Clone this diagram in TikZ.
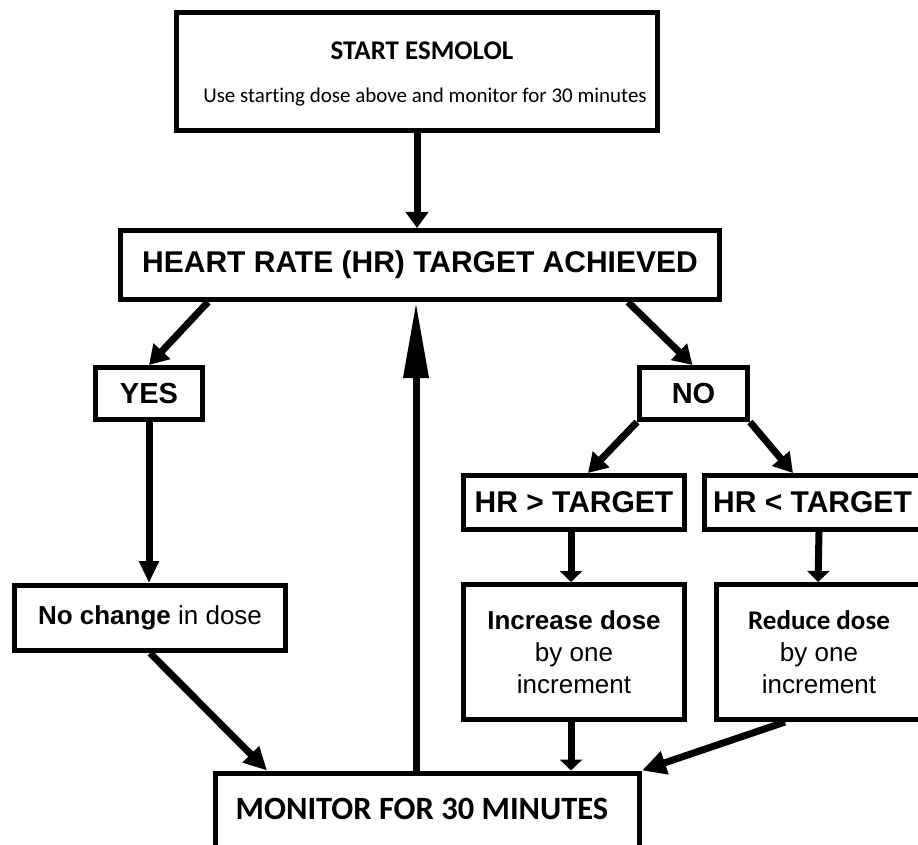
\documentclass[tikz,border=0pt]{standalone}
\usepackage{fontspec}
\setmainfont{Liberation Sans}
\newfontfamily\calf[Ligatures=NoCommon]{Carlito}
\usetikzlibrary{arrows.meta,calc}
\begin{document}
\begin{tikzpicture}[x=1pt,y=-1pt,
  box/.style={draw, line width=5pt, inner sep=0pt, align=center, fill=white},
  arialB/.style={font=\bfseries\fontsize{29}{34}\selectfont},
  conn/.style={line width=7pt, -{Triangle[length=19pt,width=22pt]}},
  shortconn/.style={line width=7pt, -{Triangle[length=11pt,width=22pt]}},
  bigconn/.style={line width=7pt, -{Triangle[length=76pt,width=24pt]}},
]
\useasboundingbox (0,0) rectangle (918,845);
\begin{scope}
\clip (0,0) rectangle (918,845);
% boxes
\node[box, minimum width=481pt, minimum height=118pt] (start) at (417,71.5) {};
\node[font=\calf\bfseries\fontsize{27}{30}\selectfont] (t1) at (422,51) {START ESMOLOL};
\node[font=\calf\fontsize{21}{25}\selectfont] (t2) at (425,97) {Use starting dose above and monitor for 30 minutes};

\node[box, minimum width=599pt, minimum height=69pt, font=\bfseries\fontsize{30}{34}\selectfont] (hr) at (420,265) {HEART RATE (HR) TARGET ACHIEVED};

\node[box, arialB, minimum width=107pt, minimum height=52pt] (yes) at (149,393.5) {\raisebox{-5pt}{YES}};
\node[box, arialB, minimum width=108pt, minimum height=52pt] (no) at (693.5,393.5) {\raisebox{-5pt}{NO}};

\node[box, minimum width=271pt, minimum height=65pt, font=\fontsize{26}{30}\selectfont] (nochange) at (150,618) {\textbf{No change} in dose};

\node[box, minimum width=221pt, minimum height=54pt, font=\bfseries\fontsize{30}{34}\selectfont] (hrgt) at (574,502.5) {\raisebox{-5pt}{HR > TARGET}};
\node[box, minimum width=216pt, minimum height=54pt, font=\bfseries\fontsize{30}{34}\selectfont] (hrlt) at (812.5,502.5) {\raisebox{-5pt}{HR < TARGET}};

\node[box, minimum width=221pt, minimum height=135pt, font=\fontsize{26}{32}\selectfont] (inc) at (574,652) {\textbf{Increase dose}\\by one\\increment};
\node[box, minimum width=205pt, minimum height=135pt, font=\fontsize{26}{32}\selectfont] (red) at (819,652) {{\calf\bfseries\fontsize{27}{32}\selectfont Reduce dose}\\by one\\increment};

\node[box, minimum width=424pt, minimum height=76pt] (mon) at (427.5,811) {};
\node[font=\calf\bfseries\fontsize{32.5}{36}\selectfont] (montext) at (422,809) {MONITOR FOR 30 MINUTES};

% connectors
\draw[conn, -{Triangle[length=16pt,width=22pt]}] (start.south) -- (start.south |- hr.north);
\draw[conn] ($(hr.south west)+(90,0)$) -- (yes.north);
\draw[conn] ($(hr.south east)-(94,0)$) -- ($(no.north)-(1,0)$);
\coordinate (up1) at ($(mon.north)+(-11.5,0)$);
\draw[bigconn] (up1) -- (up1 |- hr.south);
\draw[conn, -{Triangle[length=22pt,width=19pt]}] (yes.south) -- (yes.south |- nochange.north);
\draw[conn, -{Triangle[length=23pt,width=22pt]}] (nochange.south) -- ($(mon.north west)+(54,0)$);
\draw[conn] (no.south west) -- ($(hrgt.north)+(14,0)$);
\draw[conn] (no.south east) -- ($(hrlt.north)-(19.5,0)$);
\coordinate (a1) at ($(hrgt.south)+(-3,0)$);
\draw[shortconn] (a1) -- (a1 |- inc.north);
\draw[shortconn] (red.north |- hrlt.south) -- ($(red.north)-(1,0)$);
\coordinate (a2) at ($(inc.south)+(-3,0)$);
\draw[shortconn] (a2) -- (a2 |- mon.north);
\draw[conn, -{Triangle[length=24pt,width=23pt]}] ($(red.south west)+(71,0)$) -- (mon.north east);
\end{scope}
\end{tikzpicture}
\end{document}
